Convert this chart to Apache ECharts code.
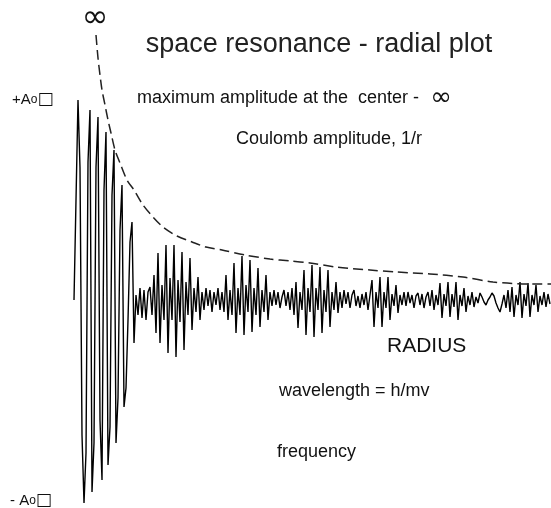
<!DOCTYPE html>
<html>
<head>
<meta charset="utf-8">
<script src="https://cdn.jsdelivr.net/npm/echarts@6/dist/echarts.min.js"></script>
<style>
html,body{margin:0;padding:0;background:#fff;}
#chart{width:551px;height:508px;}
</style>
</head>
<body>
<div id="chart"></div>
<script>
// Radial wave: amplitude samples (radius in arbitrary units)
const waveRadiusStart = 74;
const waveRadiusStep = 2;
const waveAmplitude = [
  // core region 74..136
  0, 100, 200, 132, -135, -203, -153, 138, 190, -192, -143, 133, 183, -120, -180, 110, 168,
  -165, -127, 105, 150, -143, -98, 70, 115, -107, -88, -20, 58, 78, -43, 5,
  // quiet 138..150
  -15, 12, -18, 10, -20, 8, 13,
  // group 152..204
  -15, 25, -33, 47, -43, 15, -20, 55, -53, 22, -20, 55, -57, 20, -22, 48, -50, 18, -15,
  42, -30, 12, -12, 23, -20, 8, -10,
  // quiet 206..220
  12, -6, 10, -12, 8, -5, 12, -10,
  // group 222..272
  8, -12, 25, -20, 10, -15, 37, -33, 12, -15, 44, -35, 15, -12, 40, -32, 12, -15, 32, -27,
  10, -12, 25, -20, 8, -6,
  // quiet 274..290
  10, -5, 8, -8, 3, 10, -6, 8, -10,
  // group 292..342
  12, -15, 18, -28, 8, -10, 30, -35, 12, -12, 35, -37, 12, -10, 33, -33, 10, -12, 30, -27,
  8, -10, 18, -13, 8, -8,
  // quiet 344..364
  10, -4, 8, -8, 5, 10, -6, 4, -8, 6, -5,
  // group 366..404
  8, -10, 5, 20, -27, 8, -8, 23, -27, 8, -8, 23, -20, 6, -6, 15, -13, 5, -5, 8,
  // quiet 406..430
  -6, 8, -3, 5, -8, 4, 7, -5, 6, -8, 3, 8, -6,
  // group 432..478
  10, -10, 5, -5, 17, -18, 6, -6, 18, -17, 6, -7, 18, -20, 5, -6, 12, -12, 4, -5, 8, -7, 3, -3,
  // quiet 480..506
  7, 3, -2, -5, 0, 3, 7, 4, -3, -8, -12, -4, 5, -8,
  // group 508..550
  10, -12, 13, -17, 5, -5, 18, -18, 6, -6, 17, -17, 5, -5, 15, -12, 4, -5, 8, -7, 6, -4
];

// Coulomb amplitude envelope (1/r)
const envelopeRadius = [96, 98, 100, 102, 105, 108, 111, 115, 120, 127, 134, 143, 153, 163, 177, 192,
  206, 222, 245, 270, 290, 310, 336, 370, 396, 430, 463, 493, 533, 551];
const envelopeAmplitude = [265, 242, 225, 210, 195, 180, 167, 150, 137, 120, 110, 95, 83, 73, 64, 58,
  53, 50, 45, 41, 39, 37, 33, 30, 28, 26, 23, 18, 16, 16];

const wavePoints = waveAmplitude.map((a, i) => [waveRadiusStart + i * waveRadiusStep, a]);
const envelopePoints = envelopeRadius.map((r, i) => [r, envelopeAmplitude[i]]);

const chart = echarts.init(document.getElementById('chart'), null, {renderer: 'canvas'});
const F = 'Liberation Sans, Arial, sans-serif';
function txt(x, y, text, size, extra) {
  return {
    type: 'text', silent: true,
    style: Object.assign({x: x, y: y, text: text, fill: '#111', font: size + 'px ' + F,
      align: 'left', verticalAlign: 'middle'}, extra || {})
  };
}
const richLab = {a: {fontSize: 15, fontFamily: F, fill: '#111'},
                 b: {fontSize: 12, fontFamily: F, fill: '#111'},
                 c: {fontSize: 17, fontFamily: 'DejaVu Sans', fill: '#111'}};
chart.setOption({
  animation: false,
  backgroundColor: '#fff',
  grid: {left: 0, right: 0, top: 0, bottom: 0},
  xAxis: {type: 'value', min: 0, max: 551, show: false},
  yAxis: {type: 'value', min: -208, max: 300, show: false},
  series: [
    {type: 'line', data: wavePoints, showSymbol: false, symbol: 'none',
      lineStyle: {color: '#000', width: 1.4}},
    {type: 'line', data: envelopePoints, showSymbol: false, symbol: 'none', smooth: 0.3,
      lineStyle: {color: '#222', width: 1.5, type: [10, 5]}}
  ],
  graphic: [
    txt(95, 19, '∞', 32, {align: 'center', font: '32px DejaVu Sans'}),
    txt(319, 45, 'space resonance - radial plot', 27, {align: 'center', fill: '#222'}),
    txt(137, 98, 'maximum amplitude at the  center -', 18),
    txt(441, 98, '∞', 26, {align: 'center', font: '26px DejaVu Sans'}),
    txt(236, 139, 'Coulomb amplitude, 1/r', 18),
    txt(387, 346, 'RADIUS', 21),
    txt(279, 391, 'wavelength = h/mv', 18),
    txt(277, 452, 'frequency', 18),
    {type: 'text', silent: true, style: {x: 12, y: 100, text: '{a|+A}{b|o}{c|□}',
      verticalAlign: 'middle', align: 'left', rich: richLab}},
    {type: 'text', silent: true, style: {x: 10, y: 501, text: '{a|- A}{b|o}{c|□}',
      verticalAlign: 'middle', align: 'left', rich: richLab}}
  ]
});
</script>
</body>
</html>
